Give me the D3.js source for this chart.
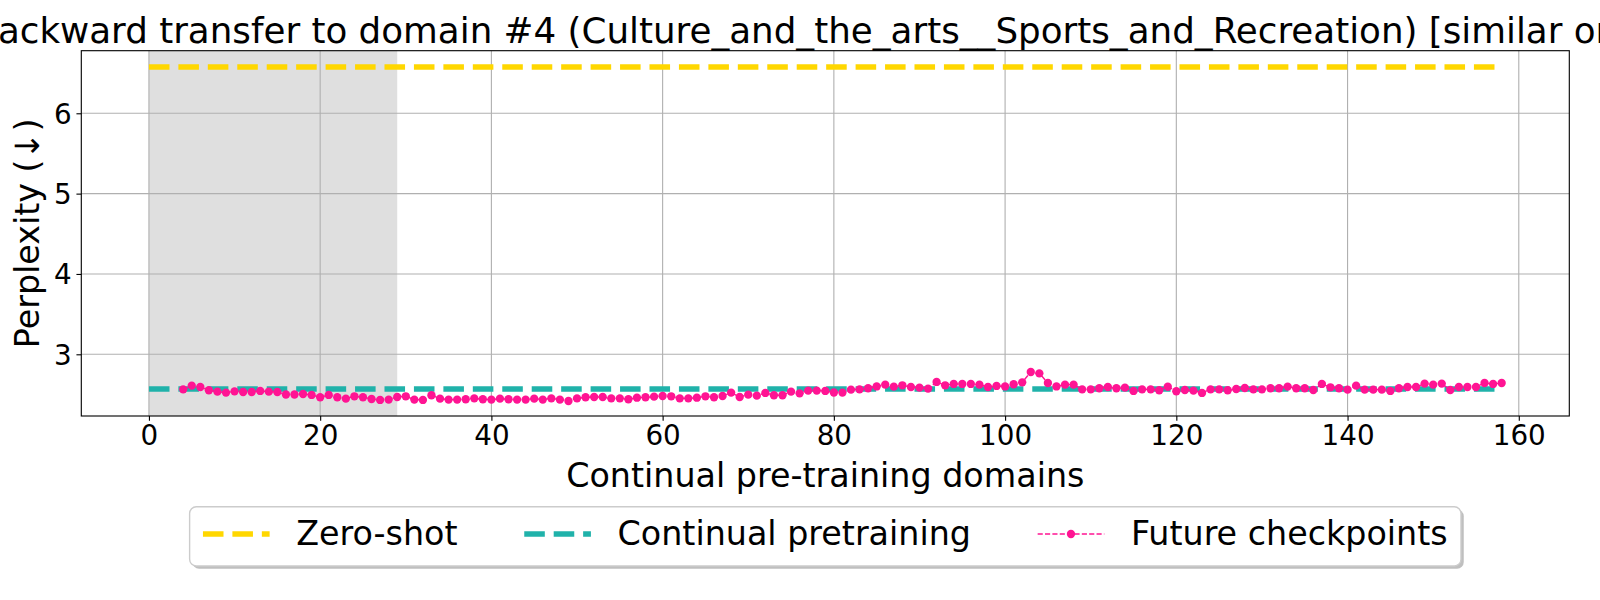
<!DOCTYPE html>
<html>
<head>
<meta charset="utf-8">
<script src="https://cdn.jsdelivr.net/npm/d3@7"></script>
<style>
  body { margin: 0; background: #fff; }
  svg { display: block; font-family: "DejaVu Sans", sans-serif; }
</style>
</head>
<body>
<div id="chart"></div>
<script>
// Values
const zeroShot = 6.575;
const continualPretraining = 2.568;
const lineSpan = [0, 158];            // hlines extent
const shadedSpan = [0, 29];           // grey span
const firstDomain = 4;                // future checkpoints start at domain 4
const futureCheckpoints = [
  2.564, 2.610, 2.593, 2.552, 2.535, 2.523, 2.539, 2.531, 2.531, 2.544,
  2.535, 2.531, 2.500, 2.500, 2.506, 2.494, 2.465, 2.494, 2.465, 2.448,
  2.477, 2.465, 2.444, 2.432, 2.436, 2.469, 2.477, 2.436, 2.432, 2.490,
  2.448, 2.436, 2.436, 2.440, 2.452, 2.440, 2.436, 2.448, 2.440, 2.436,
  2.436, 2.448, 2.436, 2.452, 2.436, 2.419, 2.452, 2.465, 2.469, 2.469,
  2.452, 2.452, 2.440, 2.460, 2.465, 2.473, 2.481, 2.477, 2.452, 2.452,
  2.460, 2.477, 2.465, 2.481, 2.523, 2.469, 2.498, 2.485, 2.519, 2.490,
  2.490, 2.535, 2.514, 2.548, 2.548, 2.544, 2.525, 2.523, 2.560, 2.564,
  2.577, 2.600, 2.622, 2.598, 2.614, 2.593, 2.585, 2.573, 2.656, 2.614,
  2.631, 2.631, 2.631, 2.622, 2.593, 2.606, 2.600, 2.627, 2.651, 2.780,
  2.763, 2.643, 2.600, 2.622, 2.622, 2.564, 2.564, 2.577, 2.593, 2.577,
  2.585, 2.544, 2.564, 2.564, 2.552, 2.596, 2.540, 2.556, 2.548, 2.519,
  2.564, 2.564, 2.552, 2.568, 2.581, 2.564, 2.564, 2.577, 2.577, 2.598,
  2.577, 2.577, 2.556, 2.631, 2.589, 2.577, 2.560, 2.610, 2.560, 2.560,
  2.560, 2.544, 2.577, 2.593, 2.593, 2.635, 2.622, 2.635, 2.556, 2.593,
  2.593, 2.593, 2.643, 2.631, 2.643
];
const xTicks = [0, 20, 40, 60, 80, 100, 120, 140, 160];
const yTicks = [3, 4, 5, 6];
const legendLabels = ['Zero-shot', 'Continual pretraining', 'Future checkpoints'];

const titleText = 'Backward transfer to domain #4 (Culture_and_the_arts__Sports_and_Recreation) [similar order]';

const W = 1600, H = 600;
const margin = { top: 50.7, right: 1600 - 1569.3, bottom: 600 - 416, left: 81.3 };
const width = W - margin.left - margin.right;
const height = H - margin.top - margin.bottom;

const pt = 100 / 72; // matplotlib points -> px at dpi 100

const svg = d3.select('#chart').append('svg')
  .attr('width', W)
  .attr('height', H);

svg.append('rect').attr('width', W).attr('height', H).attr('fill', '#fff');

const g = svg.append('g')
  .attr('transform', `translate(${margin.left},${margin.top})`);

const x = d3.scaleLinear().domain([-7.9, 165.9]).range([0, width]);
const y = d3.scaleLinear().domain([2.232, 6.779]).range([height, 0]);

// Shaded span
g.append('rect')
  .attr('x', x(shadedSpan[0]))
  .attr('y', 0)
  .attr('width', x(shadedSpan[1]) - x(shadedSpan[0]))
  .attr('height', height)
  .attr('fill', '#808080')
  .attr('fill-opacity', 0.25);

// Grid
g.append('g').selectAll('line.vx').data(xTicks).join('line')
  .attr('x1', d => x(d)).attr('x2', d => x(d))
  .attr('y1', 0).attr('y2', height)
  .attr('stroke', '#b0b0b0').attr('stroke-width', 0.8 * pt);
g.append('g').selectAll('line.hy').data(yTicks).join('line')
  .attr('x1', 0).attr('x2', width)
  .attr('y1', d => y(d)).attr('y2', d => y(d))
  .attr('stroke', '#b0b0b0').attr('stroke-width', 0.8 * pt);

const thickDash = `${3.7 * 4 * pt},${1.6 * 4 * pt}`;
const thinDash = `${3.7 * pt},${1.6 * pt}`;

// Zero-shot line
g.append('line')
  .attr('x1', x(lineSpan[0])).attr('x2', x(lineSpan[1]))
  .attr('y1', y(zeroShot)).attr('y2', y(zeroShot))
  .attr('stroke', '#FFD700').attr('stroke-width', 4 * pt)
  .attr('stroke-dasharray', thickDash);

// Continual pretraining line
g.append('line')
  .attr('x1', x(lineSpan[0])).attr('x2', x(lineSpan[1]))
  .attr('y1', y(continualPretraining)).attr('y2', y(continualPretraining))
  .attr('stroke', '#20B2AA').attr('stroke-width', 4 * pt)
  .attr('stroke-dasharray', thickDash);

// Future checkpoints
const future = futureCheckpoints.map((v, i) => ({ domain: firstDomain + i, value: v }));

g.append('path')
  .datum(future)
  .attr('fill', 'none')
  .attr('stroke', '#FF1493')
  .attr('stroke-width', 1 * pt)
  .attr('stroke-dasharray', thinDash)
  .attr('d', d3.line().x(d => x(d.domain)).y(d => y(d.value)));

g.append('g').selectAll('circle').data(future).join('circle')
  .attr('cx', d => x(d.domain))
  .attr('cy', d => y(d.value))
  .attr('r', 3 * pt)
  .attr('fill', '#FF1493');

// Frame
g.append('rect')
  .attr('width', width).attr('height', height)
  .attr('fill', 'none').attr('stroke', '#000').attr('stroke-width', 0.8 * pt);

// Axes
const tickFont = 20 * pt;
const xAxis = g.append('g')
  .attr('transform', `translate(0,${height})`)
  .call(d3.axisBottom(x).tickValues(xTicks).tickSize(3.5 * pt).tickPadding(3.5 * pt));
const yAxis = g.append('g')
  .call(d3.axisLeft(y).tickValues(yTicks).tickFormat(d3.format('d')).tickSize(3.5 * pt).tickPadding(3.5 * pt));

[xAxis, yAxis].forEach(a => {
  a.select('.domain').remove();
  a.selectAll('line').attr('stroke', '#000').attr('stroke-width', 0.8 * pt);
  a.selectAll('text')
    .attr('fill', '#000')
    .style('font-family', '"DejaVu Sans", sans-serif')
    .style('font-size', tickFont + 'px');
});
yAxis.selectAll('text').attr('dy', '0.36em');

// Title: wider than the page in the original, so it runs off both edges.
// The visible part starts at "ackward", so the "B" sits just left of x=0.
const titleFont = 35.7;
svg.append('text')
  .attr('x', -26.6)
  .attr('y', 43.3)
  .attr('text-anchor', 'start')
  .style('font-size', titleFont + 'px')
  .text(titleText);

// Axis labels
const labelFont = 24 * pt;
svg.append('text')
  .attr('x', margin.left + width / 2)
  .attr('y', 487)
  .attr('text-anchor', 'middle')
  .style('font-size', labelFont + 'px')
  .text('Continual pre-training domains');

svg.append('text')
  .attr('transform', `translate(39,${margin.top + height / 2}) rotate(-90)`)
  .attr('text-anchor', 'middle')
  .style('font-size', labelFont + 'px')
  .text('Perplexity (↓)');

// Legend
const fs = 24 * pt;
const handleLen = 2 * fs, handlePad = 0.8 * fs, colSpace = 2 * fs, borderPad = 0.4 * fs;
const legendTop = 506.7, legendH = 59.3;
const legend = svg.append('g');

const shadowRect = legend.append('rect');
const boxRect = legend.append('rect');

const items = legend.selectAll('g.item').data(legendLabels).join('g');
const texts = items.append('text')
  .style('font-size', fs + 'px')
  .attr('y', 545)
  .text(d => d);

const widths = texts.nodes().map(n => n.getComputedTextLength());
const totalW = 2 * borderPad + d3.sum(widths) + 3 * (handleLen + handlePad) + 2 * colSpace;
const legendLeft = margin.left + width / 2 - totalW / 2;

let cursor = legendLeft + borderPad;
const handleY = 534;
const colors = ['#FFD700', '#20B2AA', '#FF1493'];
legendLabels.forEach((label, i) => {
  const item = d3.select(items.nodes()[i]);
  if (i < 2) {
    item.append('line')
      .attr('x1', cursor).attr('x2', cursor + handleLen)
      .attr('y1', handleY).attr('y2', handleY)
      .attr('stroke', colors[i]).attr('stroke-width', 4 * pt)
      .attr('stroke-dasharray', thickDash);
  } else {
    item.append('line')
      .attr('x1', cursor).attr('x2', cursor + handleLen)
      .attr('y1', handleY).attr('y2', handleY)
      .attr('stroke', colors[i]).attr('stroke-width', 1 * pt)
      .attr('stroke-dasharray', thinDash);
    item.append('circle')
      .attr('cx', cursor + handleLen / 2).attr('cy', handleY)
      .attr('r', 3 * pt).attr('fill', colors[i]);
  }
  item.select('text').attr('x', cursor + handleLen + handlePad);
  cursor += handleLen + handlePad + widths[i] + colSpace;
});

shadowRect
  .attr('x', legendLeft + 2 * pt).attr('y', legendTop + 2 * pt)
  .attr('width', totalW).attr('height', legendH)
  .attr('rx', 0.2 * fs).attr('ry', 0.2 * fs)
  .attr('fill', '#808080').attr('fill-opacity', 0.5);
boxRect
  .attr('x', legendLeft).attr('y', legendTop)
  .attr('width', totalW).attr('height', legendH)
  .attr('rx', 0.2 * fs).attr('ry', 0.2 * fs)
  .attr('fill', '#fff')
  .attr('stroke', '#cccccc').attr('stroke-width', 1 * pt);
</script>
</body>
</html>
